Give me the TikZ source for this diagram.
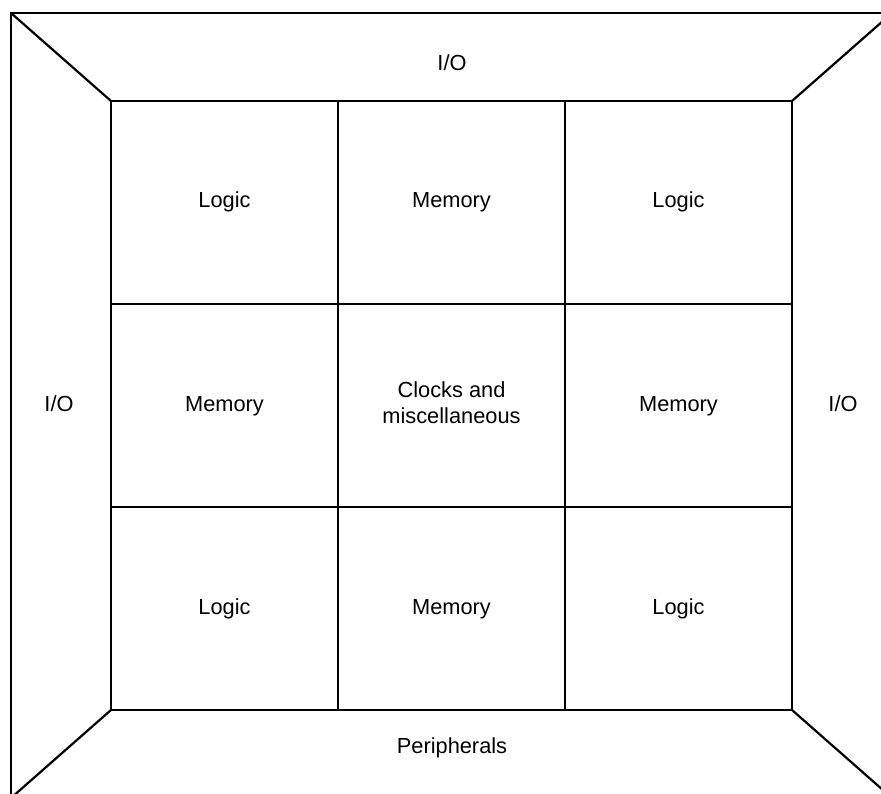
\documentclass[tikz,border=0pt]{standalone}
\usepackage{fontspec}
\setmainfont{Liberation Sans}
\tikzset{
  edge/.style={line width=2.2pt, line join=miter},
  cell/.style={draw, line width=2.2pt, minimum width=227pt, minimum height=203pt,
    inner sep=0pt, outer sep=0pt},
  lbl/.style={inner sep=0pt, align=center, font=\fontsize{21.8}{26.5}\selectfont},
  txt/.style={inner sep=0pt, align=center, text height=15.6pt, text depth=4.6pt,
    font=\fontsize{21.8}{26.5}\selectfont}
}
\begin{document}
\begin{tikzpicture}[x=1pt,y=-1pt]
\useasboundingbox (0,0) rectangle (881,794);
\fill[white] (0,0) rectangle (881,794);
\clip (0,0) rectangle (881,794);

% outer frame corners
\coordinate (otl) at (11,13);
\coordinate (otr) at (892,13);
\coordinate (obl) at (11,798);
\coordinate (obr) at (892,798);

% 3x3 floorplan grid
\node[cell] (c11) at (224.5,202.5) {};
\node[cell] (c12) at (451.5,202.5) {};
\node[cell] (c13) at (678.5,202.5) {};
\node[cell] (c21) at (224.5,405.5) {};
\node[cell] (c22) at (451.5,405.5) {};
\node[cell] (c23) at (678.5,405.5) {};
\node[cell] (c31) at (224.5,608.5) {};
\node[cell] (c32) at (451.5,608.5) {};
\node[cell] (c33) at (678.5,608.5) {};

% cell captions
\node[txt] (t11) at (c11) {Logic};
\node[txt] (t12) at (c12) {Memory};
\node[txt] (t13) at (c13) {Logic};
\node[txt] (t21) at (c21) {Memory};
\node[lbl] (t22) at ([yshift=3pt]c22.center) {Clocks and\\miscellaneous};
\node[txt] (t23) at (c23) {Memory};
\node[txt] (t31) at (c31) {Logic};
\node[txt] (t32) at (c32) {Memory};
\node[txt] (t33) at (c33) {Logic};

% frame and bevel lines
\draw[edge] (otl) rectangle (obr);
\draw[edge] (otl) -- (c11.north west);
\draw[edge] (otr) -- (c13.north east);
\draw[edge] (obl) -- (c31.south west);
\draw[edge] (obr) -- (c33.south east);

% ring labels
\node[txt] (top) at (452,65) {I/O};
\node[txt] (left) at (59,406) {I/O};
\node[txt] (right) at (843,406) {I/O};
\node[txt] (bottom) at (452,748) {Peripherals};
\end{tikzpicture}
\end{document}
